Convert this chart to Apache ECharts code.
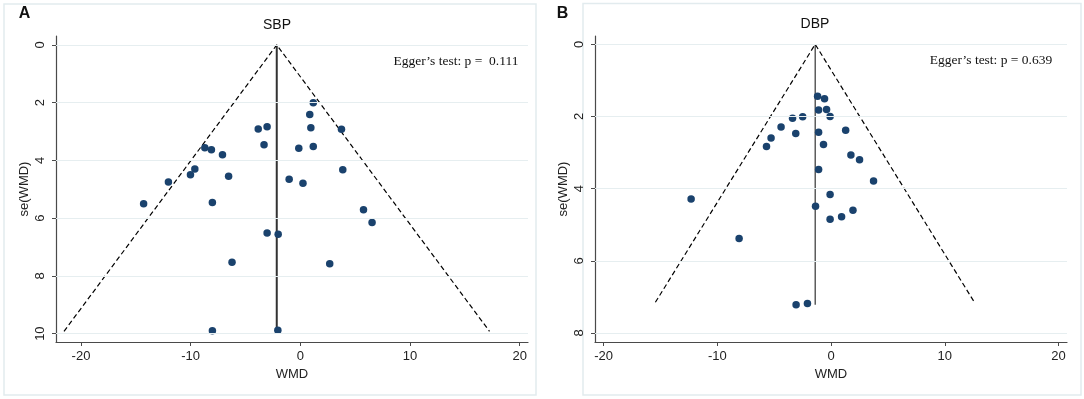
<!DOCTYPE html>
<html>
<head>
<meta charset="utf-8">
<script src="https://cdn.jsdelivr.net/npm/echarts@6/dist/echarts.min.js"></script>
<style>
  html, body { margin: 0; padding: 0; background: #fff; }
  #chart { width: 1084px; height: 399px; }
</style>
</head>
<body>
<div id="chart"></div>
<script>
// values
const xTicks = [-20, -10, 0, 10, 20]
const sbpYTicks = [0, 2, 4, 6, 8, 10]
const dbpYTicks = [0, 2, 4, 6, 8]

const sbpWmd = [1.18, 0.86, -3.84, -3.03, 0.96, 3.75, -3.31, -0.14, 1.18, -8.71, -8.11, -7.10, -9.62, -10.02, -6.54, 3.87, -12.03, -1.02, 0.24, -14.29, -8.02, 5.76, 6.54, -3.03, -2.02, -6.23, 2.68, -8.02, -2.05]
const sbpSe = [2.00, 2.41, 2.91, 2.83, 2.87, 2.92, 3.46, 3.58, 3.52, 3.56, 3.63, 3.80, 4.30, 4.50, 4.55, 4.32, 4.75, 4.65, 4.79, 5.50, 5.46, 5.71, 6.15, 6.51, 6.56, 7.53, 7.58, 9.90, 9.88]
const sbpPooledX = [-2.15, -2.15]
const sbpPooledSe = [0, 9.9]
const sbpFunnelX = [-21.55, -2.15, 17.25]
const sbpFunnelSe = [9.92, 0, 9.92]

const dbpWmd = [-1.19, -0.58, -1.10, -0.40, -0.09, -2.50, -3.39, -4.40, -3.11, -1.10, 1.28, -5.28, -5.68, -0.67, 1.74, 2.50, -1.10, 3.73, -0.09, -12.31, -1.37, 1.92, 0.92, -0.09, -8.09, -2.08, -3.08]
const dbpSe = [1.44, 1.51, 1.82, 1.81, 2.00, 2.01, 2.05, 2.29, 2.47, 2.44, 2.38, 2.60, 2.83, 2.78, 3.07, 3.20, 3.47, 3.79, 4.16, 4.29, 4.49, 4.60, 4.78, 4.85, 5.38, 7.18, 7.22]
const dbpPooledX = [-1.4, -1.4]
const dbpPooledSe = [0, 7.22]
const dbpFunnelX = [-15.45, -1.4, 12.6]
const dbpFunnelSe = [7.15, 0, 7.15]

const zip = (a, b) => a.map((v, i) => [v, b[i]])

const font = 'Liberation Sans, Arial, sans-serif'
const serif = 'Liberation Serif, Times New Roman, serif'
const axisColor = '#4a4a4a'
const gridColor = '#e6eef0'

function xAxisFor(idx, min, max) {
  return {
    type: 'value', gridIndex: idx, min: min, max: max,
    name: 'WMD', nameLocation: 'middle', nameGap: 22,
    nameTextStyle: { color: '#222', fontSize: 13, fontFamily: font },
    axisLine: { onZero: false, lineStyle: { color: axisColor, width: 1.2 } },
    axisTick: { customValues: xTicks, length: 4, lineStyle: { color: axisColor } },
    axisLabel: { customValues: xTicks, color: '#222', fontSize: 13, fontFamily: font, margin: 8 },
    splitLine: { show: false }
  }
}

function yAxisFor(idx, min, max, ticks) {
  return {
    type: 'value', gridIndex: idx, inverse: true, min: min, max: max,
    name: 'se(WMD)', nameLocation: 'middle', nameGap: 25, nameRotate: 90,
    nameTextStyle: { color: '#222', fontSize: 13, fontFamily: font },
    axisLine: { onZero: false, lineStyle: { color: axisColor, width: 1.2 } },
    axisTick: { customValues: ticks, length: 4, lineStyle: { color: axisColor } },
    axisLabel: { customValues: ticks, rotate: 90, color: '#222', fontSize: 13, fontFamily: font, margin: 9 },
    splitLine: { show: false }
  }
}

function panelSeries(idx, wmd, se, pooledX, pooledSe, funnelX, funnelSe, ticks, lineWidth) {
  return [
    {
      type: 'line', xAxisIndex: idx, yAxisIndex: idx, z: 2,
      data: zip(pooledX, pooledSe), symbol: 'none', silent: true,
      lineStyle: { color: '#333', width: lineWidth },
      markLine: {
        silent: true, symbol: 'none', label: { show: false },
        lineStyle: { color: gridColor, type: 'solid', width: 1 },
        data: ticks.map(v => ({ yAxis: v }))
      }
    },
    {
      type: 'line', xAxisIndex: idx, yAxisIndex: idx, z: 3,
      data: zip(funnelX, funnelSe), symbol: 'none', silent: true,
      lineStyle: { color: '#000', width: 1.2, type: [5, 3] }
    },
    {
      type: 'scatter', xAxisIndex: idx, yAxisIndex: idx, z: 4,
      data: zip(wmd, se), symbolSize: 7.5,
      itemStyle: { color: '#1a426d', opacity: 1 }
    }
  ]
}

function txt(x, y, s, size, family, weight) {
  return {
    type: 'text', x: x, y: y, silent: true,
    style: { text: s, fill: '#111', font: (weight || 'normal') + ' ' + size + 'px ' + family, align: 'center', verticalAlign: 'middle' }
  }
}

const chart = echarts.init(document.getElementById('chart'))
chart.setOption({
  backgroundColor: '#fff',
  animation: false,
  grid: [
    { left: 56, top: 36, width: 472, height: 306 },
    { left: 595, top: 36, width: 472, height: 306 }
  ],
  xAxis: [xAxisFor(0, -22.28, 20.76), xAxisFor(1, -20.76, 20.74)],
  yAxis: [yAxisFor(0, -0.31, 10.29, sbpYTicks), yAxisFor(1, -0.23, 8.25, dbpYTicks)],
  series: [
    ...panelSeries(0, sbpWmd, sbpSe, sbpPooledX, sbpPooledSe, sbpFunnelX, sbpFunnelSe, sbpYTicks, 2),
    ...panelSeries(1, dbpWmd, dbpSe, dbpPooledX, dbpPooledSe, dbpFunnelX, dbpFunnelSe, dbpYTicks, 1.2)
  ],
  graphic: [
    { type: 'rect', silent: true, shape: { x: 4, y: 4, width: 532, height: 391 }, style: { fill: 'none', stroke: '#e2ebee', lineWidth: 1.5 } },
    { type: 'rect', silent: true, shape: { x: 583, y: 3.5, width: 498, height: 391.5 }, style: { fill: 'none', stroke: '#e2ebee', lineWidth: 1.5 } },
    txt(24.5, 13.5, 'A', 16, font, 'bold'),
    txt(562.5, 13.5, 'B', 16, font, 'bold'),
    txt(277, 25, 'SBP', 14, font),
    txt(815, 24, 'DBP', 14, font),
    txt(456, 61, 'Egger\u2019s test: p =  0.111', 13.5, serif),
    txt(991, 60, 'Egger\u2019s test: p = 0.639', 13.5, serif)
  ]
})
window.onresize = () => {
  chart.resize()
}
</script>
</body>
</html>
